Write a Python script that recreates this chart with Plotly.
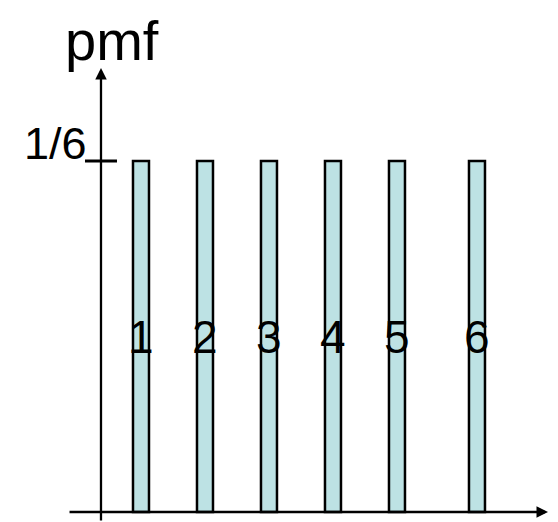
import plotly.graph_objects as go

# die outcomes and their probabilities
outcomes = ["1", "2", "3", "4", "5", "6"]
positions = [1, 2, 3, 4, 5, 6.25]
probs = [1 / 6] * 6
tick_label = "1/6"
y_title = "pmf"

font = "Arial, Liberation Sans, sans-serif"

fig = go.Figure()
fig.add_trace(go.Bar(x=positions, y=probs, width=0.25,
                     marker=dict(color="#bde2e4", line=dict(color="black", width=2.5)),
                     hoverinfo="skip"))

# outcome labels in the middle of each bar
for pos, lab, p in zip(positions, outcomes, probs):
    fig.add_annotation(x=pos, y=p / 2, text=lab, showarrow=False,
                       font=dict(size=46, color="black", family=font))

# y axis with arrow
fig.add_annotation(x=0.375, y=0.2108, ax=0.375, ay=-0.0048, axref="x", ayref="y",
                   text="", showarrow=True, arrowhead=2, arrowsize=1, arrowwidth=2.3,
                   arrowcolor="black")
# x axis with arrow
fig.add_annotation(x=7.36, y=0, ax=-0.14, ay=0, axref="x", ayref="y",
                   text="", showarrow=True, arrowhead=2, arrowsize=1, arrowwidth=2.3,
                   arrowcolor="black")

# tick at 1/6
fig.add_shape(type="line", x0=0.125, x1=0.625, y0=probs[0], y1=probs[0],
              line=dict(color="black", width=3))
fig.add_annotation(x=0.19, y=0.1752, text=tick_label, showarrow=False, xanchor="right",
                   font=dict(size=45, color="black", family=font))
fig.add_annotation(x=0.547, xref="x", y=1, yref="paper", yanchor="top", text=y_title,
                   showarrow=False, borderpad=0,
                   font=dict(size=56, color="black", family=font))

# the page adds an 8px body margin, so the figure is 8px smaller than the window
fig.update_layout(width=550, height=514, margin=dict(l=0, r=0, t=0, b=0),
                  paper_bgcolor="white", plot_bgcolor="white", showlegend=False,
                  xaxis=dict(range=[-1.078, 7.516], visible=False, fixedrange=True),
                  yaxis=dict(range=[-0.00475, 0.23932], visible=False, fixedrange=True))

fig.write_html("out.html")
